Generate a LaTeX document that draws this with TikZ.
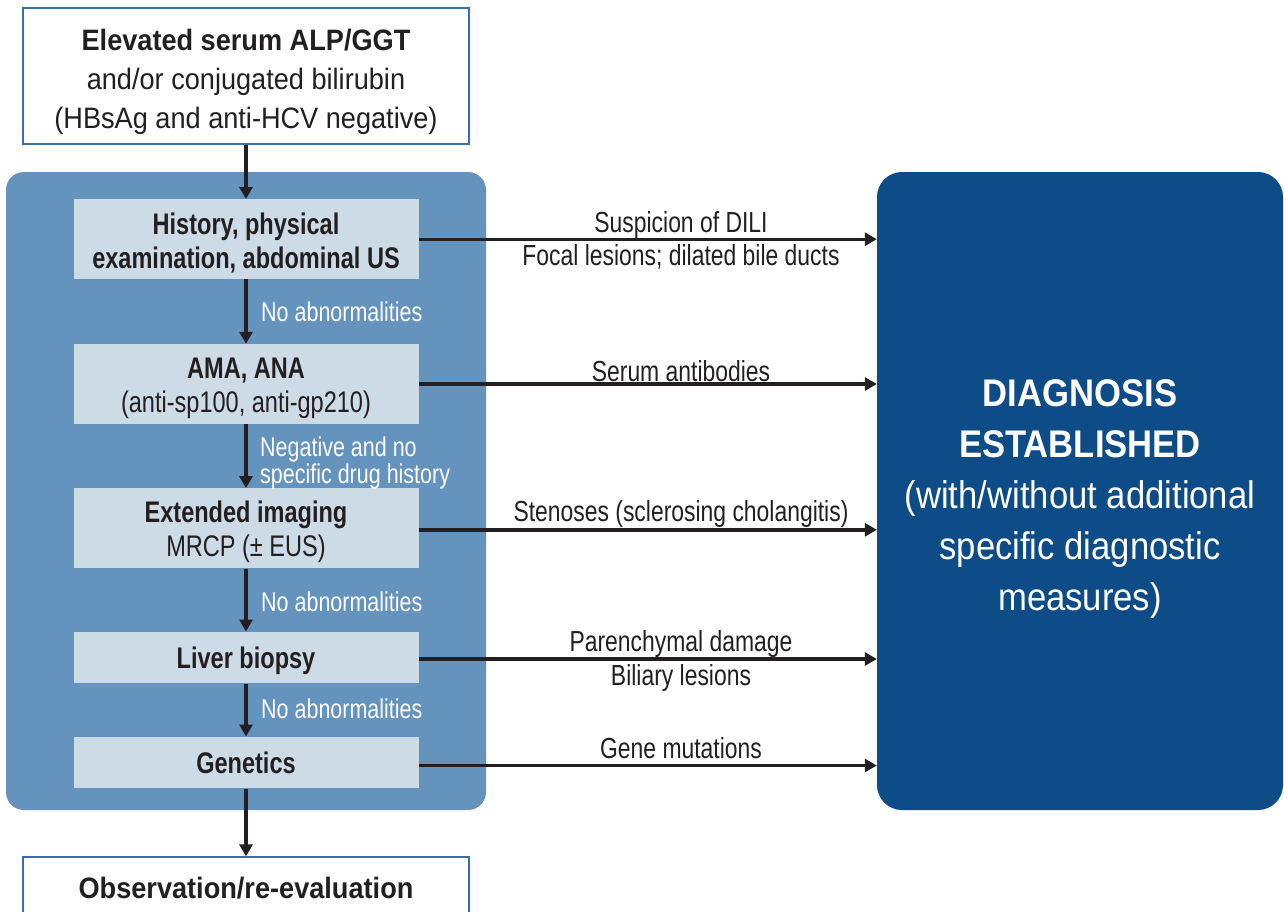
\documentclass[tikz,border=0pt]{standalone}
\usepackage{fontspec}
\setmainfont{Liberation Sans}
\newfontfamily\fTop[FakeStretch=0.92]{Liberation Sans}
\newfontfamily\fIn[FakeStretch=0.79]{Liberation Sans}
\newfontfamily\fBig[FakeStretch=0.9]{Liberation Sans}
\usetikzlibrary{arrows.meta}
\definecolor{ink}{HTML}{231F20}
\definecolor{panelblue}{HTML}{6493BE}
\definecolor{stepfill}{HTML}{CDDBE7}
\definecolor{diagblue}{HTML}{0E4C87}
\definecolor{topborder}{HTML}{3A6EA8}
\newcommand\upS[1]{\rule{0pt}{#1pt}}
\newcommand\dnS[1]{\rule[-#1pt]{0pt}{#1pt}}
\begin{document}
\begin{tikzpicture}[x=1pt,y=-1pt,
 whitebox/.style={draw=topborder, line width=1.2pt, fill=white, inner sep=0pt, minimum width=446pt, align=center, text=ink, font=\fTop\fontsize{29.5}{39}\selectfont},
 panel/.style={fill=panelblue, rounded corners=18pt, inner sep=0pt},
 stepbox/.style={fill=stepfill, minimum width=345pt, inner sep=0pt, align=center, text=ink, font=\fIn\fontsize{29.8}{34}\selectfont},
 diagbox/.style={fill=diagblue, rounded corners=25pt, inner sep=0pt, align=center, text=white, font=\fBig\fontsize{38.5}{51}\selectfont},
 arr/.style={draw=ink, line width=3.4pt, -{Triangle[length=12pt,width=13pt]}},
 rlabel/.style={anchor=base, text=ink, inner sep=0pt, font=\fIn\fontsize{29}{33}\selectfont},
 wlabel/.style={anchor=base west, text=white, inner sep=0pt, align=left, font=\fIn\fontsize{27.2}{23}\selectfont},
]
\useasboundingbox (0,0) rectangle (1284,911);

\node[panel, minimum width=480pt, minimum height=638pt] (panel) at (246,491) {};
\node[diagbox, minimum width=406pt, minimum height=638pt] (diag) at (1080,491)
  {\textbf{\upS{42}DIAGNOSIS}\\\textbf{ESTABLISHED}\\(with/without additional\\specific diagnostic\\measures)\dnS{8}};

\node[whitebox, minimum height=136pt] (top) at (246,76)
  {\textbf{\upS{34}Elevated serum ALP/GGT}\\and/or conjugated bilirubin\\(HBsAg and anti-HCV negative)\dnS{8}};

\node[stepbox, minimum height=80pt] (b1) at (246,239.2)
  {\textbf{\upS{32}History, physical}\\\textbf{examination, abdominal US}\dnS{8}};
\node[stepbox, minimum height=80pt] (b2) at (246,384)
  {\textbf{\upS{30}AMA, ANA}\\(anti-sp100, anti-gp210)\dnS{8}};
\node[stepbox, minimum height=80pt] (b3) at (246,528.3)
  {\textbf{\upS{30}Extended imaging}\\MRCP (± EUS)\dnS{8}};
\node[stepbox, minimum height=51.6pt] (b4) at (246,657.5)
  {\textbf{\upS{30}Liver biopsy\dnS{8}}};
\node[stepbox, minimum height=51.6pt] (b5) at (246,762.5)
  {\textbf{\upS{30}Genetics\dnS{8}}};

\node[whitebox, minimum height=84pt] (bottom) at (246,899)
  {\textbf{\upS{29}Observation/re-evaluation\dnS{30.4}}};

\draw[arr] (top.south) -- (b1.north);
\draw[arr] (b1.south) -- (b2.north);
\draw[arr] (b2.south) -- (b3.north);
\draw[arr] (b3.south) -- (b4.north);
\draw[arr] (b4.south) -- (b5.north);
\draw[arr] (b5.south) -- (bottom.north);

\draw[arr] (b1.east) -- (b1.east -| diag.west);
\draw[arr] (b2.east) -- (b2.east -| diag.west);
\draw[arr] ([yshift=-1.5pt]b3.east) -- ([yshift=-1.5pt]b3.east -| diag.west);
\draw[arr] ([yshift=-1.5pt]b4.east) -- ([yshift=-1.5pt]b4.east -| diag.west);
\draw[arr] ([yshift=-3pt]b5.east) -- ([yshift=-3pt]b5.east -| diag.west);

\node[rlabel] (l1a) at (681,232.3) {Suspicion of DILI};
\node[rlabel] (l1b) at (681,265) {Focal lesions; dilated bile ducts};
\node[rlabel] (l2) at (681,381.7) {Serum antibodies};
\node[rlabel] (l3) at (681,521.7) {Stenoses (sclerosing cholangitis)};
\node[rlabel] (l4a) at (681,651.7) {Parenchymal damage};
\node[rlabel] (l4b) at (681,685) {Biliary lesions};
\node[rlabel] (l5) at (681,758.3) {Gene mutations};

\node[wlabel] (w1) at (261,321) {No abnormalities};
\node[wlabel] (w2) at (260,483) {Negative and no\\specific drug history};
\node[wlabel] (w3) at (261,611.7) {No abnormalities};
\node[wlabel] (w4) at (261,718.3) {No abnormalities};
\end{tikzpicture}
\end{document}
